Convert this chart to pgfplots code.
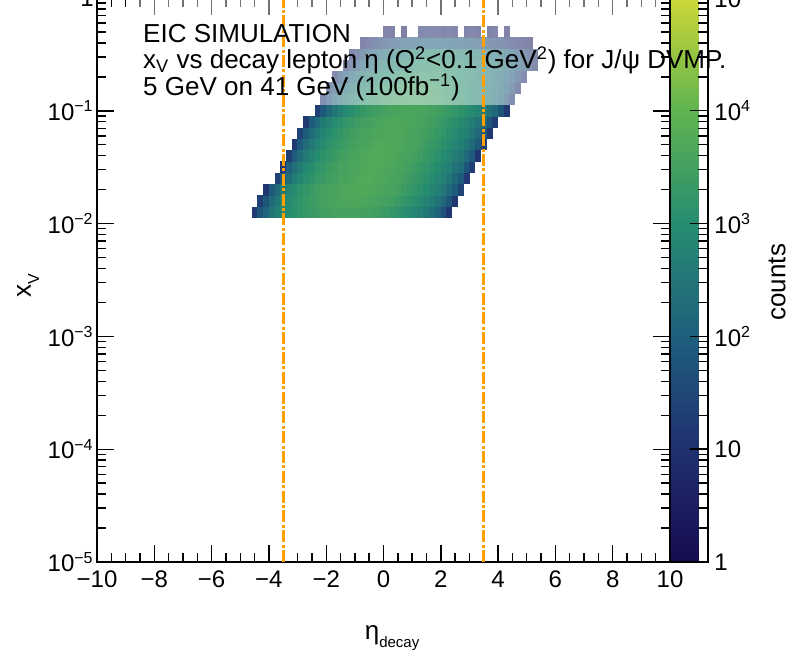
\documentclass[border=0pt]{standalone}
\usepackage{fontspec}
\setmainfont{Liberation Sans}
\usepackage{pgfplots}
\usepackage{pgfplotstable}
\pgfplotsset{compat=1.18}

\definecolor{cutorange}{RGB}{255,160,0}

\pgfdeclareplotmark{bin}{%
  \pgfpathrectangle{\pgfpoint{-1.5pt}{-2.9pt}}{\pgfpoint{3.0pt}{5.8pt}}%
  \pgfusepathqfill}

% eta bin centre, log10(x_V) bin centre, log10(counts)
\pgfplotstableread[row sep=\\]{
eta ly c\\
-4.5 -1.9 1.2\\ -4.3 -1.9 1.8\\ -4.1 -1.9 2.1\\ -3.9 -1.9 2.5\\ -3.7 -1.9 2.7\\ -3.5 -1.9 2.85\\ -3.3 -1.9 3.0\\ -3.1 -1.9 3.1\\ -2.9 -1.9 3.2\\ -2.7 -1.9 3.3\\ -2.5 -1.9 3.35\\ -2.3 -1.9 3.4\\ -2.1 -1.9 3.45\\ -1.9 -1.9 3.5\\ -1.7 -1.9 3.55\\ -1.5 -1.9 3.55\\ -1.3 -1.9 3.55\\ -1.1 -1.9 3.55\\ -0.9 -1.9 3.55\\ -0.7 -1.9 3.5\\ -0.5 -1.9 3.5\\ -0.3 -1.9 3.45\\ -0.1 -1.9 3.4\\ 0.1 -1.9 3.35\\ 0.3 -1.9 3.25\\ 0.5 -1.9 3.15\\ 0.7 -1.9 3.05\\ 0.9 -1.9 2.95\\ 1.1 -1.9 2.85\\ 1.3 -1.9 2.7\\ 1.5 -1.9 2.55\\ 1.7 -1.9 2.35\\ 1.9 -1.9 2.1\\ 2.1 -1.9 1.7\\ 2.3 -1.9 1.1\\
-4.3 -1.8 1.3\\ -4.1 -1.8 1.8\\ -3.9 -1.8 2.25\\ -3.7 -1.8 2.55\\ -3.5 -1.8 2.8\\ -3.3 -1.8 2.95\\ -3.1 -1.8 3.1\\ -2.9 -1.8 3.2\\ -2.7 -1.8 3.3\\ -2.5 -1.8 3.4\\ -2.3 -1.8 3.45\\ -2.1 -1.8 3.5\\ -1.9 -1.8 3.55\\ -1.7 -1.8 3.6\\ -1.5 -1.8 3.65\\ -1.3 -1.8 3.65\\ -1.1 -1.8 3.68\\ -0.9 -1.8 3.67\\ -0.7 -1.8 3.65\\ -0.5 -1.8 3.62\\ -0.3 -1.8 3.6\\ -0.1 -1.8 3.55\\ 0.1 -1.8 3.5\\ 0.3 -1.8 3.45\\ 0.5 -1.8 3.35\\ 0.7 -1.8 3.25\\ 0.9 -1.8 3.15\\ 1.1 -1.8 3.05\\ 1.3 -1.8 2.95\\ 1.5 -1.8 2.8\\ 1.7 -1.8 2.65\\ 1.9 -1.8 2.45\\ 2.1 -1.8 2.2\\ 2.3 -1.8 1.8\\ 2.5 -1.8 1.2\\
-4.1 -1.7 1.1\\ -3.9 -1.7 1.9\\ -3.7 -1.7 2.3\\ -3.5 -1.7 2.6\\ -3.3 -1.7 2.85\\ -3.1 -1.7 3.0\\ -2.9 -1.7 3.15\\ -2.7 -1.7 3.25\\ -2.5 -1.7 3.35\\ -2.3 -1.7 3.45\\ -2.1 -1.7 3.5\\ -1.9 -1.7 3.55\\ -1.7 -1.7 3.6\\ -1.5 -1.7 3.65\\ -1.3 -1.7 3.7\\ -1.1 -1.7 3.7\\ -0.9 -1.7 3.72\\ -0.7 -1.7 3.72\\ -0.5 -1.7 3.7\\ -0.3 -1.7 3.68\\ -0.1 -1.7 3.65\\ 0.1 -1.7 3.6\\ 0.3 -1.7 3.55\\ 0.5 -1.7 3.5\\ 0.7 -1.7 3.4\\ 0.9 -1.7 3.3\\ 1.1 -1.7 3.2\\ 1.3 -1.7 3.1\\ 1.5 -1.7 3.0\\ 1.7 -1.7 2.85\\ 1.9 -1.7 2.7\\ 2.1 -1.7 2.5\\ 2.3 -1.7 2.25\\ 2.5 -1.7 1.9\\ 2.7 -1.7 1.4\\
-3.7 -1.6 1.4\\ -3.5 -1.6 1.9\\ -3.3 -1.6 2.3\\ -3.1 -1.6 2.65\\ -2.9 -1.6 2.85\\ -2.7 -1.6 3.05\\ -2.5 -1.6 3.15\\ -2.3 -1.6 3.3\\ -2.1 -1.6 3.35\\ -1.9 -1.6 3.45\\ -1.7 -1.6 3.5\\ -1.5 -1.6 3.6\\ -1.3 -1.6 3.6\\ -1.1 -1.6 3.65\\ -0.9 -1.6 3.7\\ -0.7 -1.6 3.72\\ -0.5 -1.6 3.75\\ -0.3 -1.6 3.7\\ -0.1 -1.6 3.68\\ 0.1 -1.6 3.65\\ 0.3 -1.6 3.6\\ 0.5 -1.6 3.55\\ 0.7 -1.6 3.5\\ 0.9 -1.6 3.4\\ 1.1 -1.6 3.3\\ 1.3 -1.6 3.2\\ 1.5 -1.6 3.1\\ 1.7 -1.6 3.0\\ 1.9 -1.6 2.85\\ 2.1 -1.6 2.7\\ 2.3 -1.6 2.5\\ 2.5 -1.6 2.2\\ 2.7 -1.6 1.9\\ 2.9 -1.6 1.2\\
-3.5 -1.5 1.2\\ -3.3 -1.5 2.0\\ -3.1 -1.5 2.35\\ -2.9 -1.5 2.6\\ -2.7 -1.5 2.9\\ -2.5 -1.5 3.0\\ -2.3 -1.5 3.2\\ -2.1 -1.5 3.25\\ -1.9 -1.5 3.4\\ -1.7 -1.5 3.45\\ -1.5 -1.5 3.55\\ -1.3 -1.5 3.55\\ -1.1 -1.5 3.62\\ -0.9 -1.5 3.65\\ -0.7 -1.5 3.7\\ -0.5 -1.5 3.75\\ -0.3 -1.5 3.72\\ -0.1 -1.5 3.72\\ 0.1 -1.5 3.68\\ 0.3 -1.5 3.65\\ 0.5 -1.5 3.6\\ 0.7 -1.5 3.55\\ 0.9 -1.5 3.48\\ 1.1 -1.5 3.4\\ 1.3 -1.5 3.3\\ 1.5 -1.5 3.22\\ 1.7 -1.5 3.1\\ 1.9 -1.5 3.0\\ 2.1 -1.5 2.85\\ 2.3 -1.5 2.7\\ 2.5 -1.5 2.45\\ 2.7 -1.5 2.3\\ 2.9 -1.5 1.8\\ 3.1 -1.5 1.3\\
-3.3 -1.4 1.3\\ -3.1 -1.4 1.9\\ -2.9 -1.4 2.3\\ -2.7 -1.4 2.6\\ -2.5 -1.4 2.85\\ -2.3 -1.4 3.0\\ -2.1 -1.4 3.15\\ -1.9 -1.4 3.25\\ -1.7 -1.4 3.35\\ -1.5 -1.4 3.45\\ -1.3 -1.4 3.5\\ -1.1 -1.4 3.6\\ -0.9 -1.4 3.62\\ -0.7 -1.4 3.68\\ -0.5 -1.4 3.72\\ -0.3 -1.4 3.75\\ -0.1 -1.4 3.75\\ 0.1 -1.4 3.72\\ 0.3 -1.4 3.7\\ 0.5 -1.4 3.65\\ 0.7 -1.4 3.6\\ 0.9 -1.4 3.55\\ 1.1 -1.4 3.5\\ 1.3 -1.4 3.42\\ 1.5 -1.4 3.3\\ 1.7 -1.4 3.2\\ 1.9 -1.4 3.1\\ 2.1 -1.4 3.0\\ 2.3 -1.4 2.85\\ 2.5 -1.4 2.65\\ 2.7 -1.4 2.5\\ 2.9 -1.4 2.25\\ 3.1 -1.4 1.9\\ 3.3 -1.4 1.1\\
-3.1 -1.3 1.2\\ -2.9 -1.3 1.85\\ -2.7 -1.3 2.3\\ -2.5 -1.3 2.6\\ -2.3 -1.3 2.8\\ -2.1 -1.3 3.0\\ -1.9 -1.3 3.15\\ -1.7 -1.3 3.25\\ -1.5 -1.3 3.35\\ -1.3 -1.3 3.42\\ -1.1 -1.3 3.5\\ -0.9 -1.3 3.55\\ -0.7 -1.3 3.6\\ -0.5 -1.3 3.65\\ -0.3 -1.3 3.7\\ -0.1 -1.3 3.72\\ 0.1 -1.3 3.72\\ 0.3 -1.3 3.7\\ 0.5 -1.3 3.68\\ 0.7 -1.3 3.65\\ 0.9 -1.3 3.6\\ 1.1 -1.3 3.55\\ 1.3 -1.3 3.5\\ 1.5 -1.3 3.4\\ 1.7 -1.3 3.3\\ 1.9 -1.3 3.2\\ 2.1 -1.3 3.1\\ 2.3 -1.3 3.0\\ 2.5 -1.3 2.85\\ 2.7 -1.3 2.7\\ 2.9 -1.3 2.5\\ 3.1 -1.3 2.25\\ 3.3 -1.3 1.85\\ 3.5 -1.3 1.3\\
-2.9 -1.2 1.4\\ -2.7 -1.2 1.9\\ -2.5 -1.2 2.3\\ -2.3 -1.2 2.55\\ -2.1 -1.2 2.85\\ -1.9 -1.2 3.0\\ -1.7 -1.2 3.12\\ -1.5 -1.2 3.25\\ -1.3 -1.2 3.35\\ -1.1 -1.2 3.45\\ -0.9 -1.2 3.5\\ -0.7 -1.2 3.55\\ -0.5 -1.2 3.6\\ -0.3 -1.2 3.65\\ -0.1 -1.2 3.68\\ 0.1 -1.2 3.7\\ 0.3 -1.2 3.7\\ 0.5 -1.2 3.7\\ 0.7 -1.2 3.66\\ 0.9 -1.2 3.62\\ 1.1 -1.2 3.58\\ 1.3 -1.2 3.52\\ 1.5 -1.2 3.48\\ 1.7 -1.2 3.4\\ 1.9 -1.2 3.3\\ 2.1 -1.2 3.2\\ 2.3 -1.2 3.08\\ 2.5 -1.2 2.98\\ 2.7 -1.2 2.85\\ 2.9 -1.2 2.7\\ 3.1 -1.2 2.5\\ 3.3 -1.2 2.2\\ 3.5 -1.2 1.9\\ 3.7 -1.2 1.2\\
-2.7 -1.1 1.2\\ -2.5 -1.1 1.9\\ -2.3 -1.1 2.25\\ -2.1 -1.1 2.6\\ -1.9 -1.1 2.8\\ -1.7 -1.1 3.0\\ -1.5 -1.1 3.1\\ -1.3 -1.1 3.2\\ -1.1 -1.1 3.3\\ -0.9 -1.1 3.4\\ -0.7 -1.1 3.48\\ -0.5 -1.1 3.52\\ -0.3 -1.1 3.58\\ -0.1 -1.1 3.62\\ 0.1 -1.1 3.66\\ 0.3 -1.1 3.68\\ 0.5 -1.1 3.7\\ 0.7 -1.1 3.68\\ 0.9 -1.1 3.65\\ 1.1 -1.1 3.62\\ 1.3 -1.1 3.58\\ 1.5 -1.1 3.52\\ 1.7 -1.1 3.45\\ 1.9 -1.1 3.38\\ 2.1 -1.1 3.28\\ 2.3 -1.1 3.18\\ 2.5 -1.1 3.08\\ 2.7 -1.1 2.98\\ 2.9 -1.1 2.82\\ 3.1 -1.1 2.65\\ 3.3 -1.1 2.45\\ 3.5 -1.1 2.2\\ 3.7 -1.1 1.8\\ 3.9 -1.1 1.3\\
-2.3 -1.0 1.3\\ -2.1 -1.0 1.85\\ -1.9 -1.0 2.2\\ -1.7 -1.0 2.5\\ -1.5 -1.0 2.75\\ -1.3 -1.0 2.95\\ -1.1 -1.0 3.05\\ -0.9 -1.0 3.18\\ -0.7 -1.0 3.28\\ -0.5 -1.0 3.36\\ -0.3 -1.0 3.42\\ -0.1 -1.0 3.48\\ 0.1 -1.0 3.52\\ 0.3 -1.0 3.58\\ 0.5 -1.0 3.6\\ 0.7 -1.0 3.62\\ 0.9 -1.0 3.64\\ 1.1 -1.0 3.62\\ 1.3 -1.0 3.6\\ 1.5 -1.0 3.58\\ 1.7 -1.0 3.52\\ 1.9 -1.0 3.48\\ 2.1 -1.0 3.42\\ 2.3 -1.0 3.34\\ 2.5 -1.0 3.25\\ 2.7 -1.0 3.15\\ 2.9 -1.0 3.05\\ 3.1 -1.0 2.95\\ 3.3 -1.0 2.8\\ 3.5 -1.0 2.62\\ 3.7 -1.0 2.42\\ 3.9 -1.0 2.2\\ 4.1 -1.0 1.8\\ 4.3 -1.0 1.2\\
-2.1 -0.9 1.1\\ -1.9 -0.9 1.7\\ -1.7 -0.9 2.1\\ -1.5 -0.9 2.4\\ -1.3 -0.9 2.65\\ -1.1 -0.9 2.8\\ -0.9 -0.9 2.95\\ -0.7 -0.9 3.05\\ -0.5 -0.9 3.15\\ -0.3 -0.9 3.22\\ -0.1 -0.9 3.3\\ 0.1 -0.9 3.35\\ 0.3 -0.9 3.4\\ 0.5 -0.9 3.45\\ 0.7 -0.9 3.48\\ 0.9 -0.9 3.5\\ 1.1 -0.9 3.5\\ 1.3 -0.9 3.48\\ 1.5 -0.9 3.46\\ 1.7 -0.9 3.42\\ 1.9 -0.9 3.38\\ 2.1 -0.9 3.32\\ 2.3 -0.9 3.26\\ 2.5 -0.9 3.18\\ 2.7 -0.9 3.1\\ 2.9 -0.9 3.0\\ 3.1 -0.9 2.9\\ 3.3 -0.9 2.8\\ 3.5 -0.9 2.65\\ 3.7 -0.9 2.5\\ 3.9 -0.9 2.3\\ 4.1 -0.9 2.05\\ 4.3 -0.9 1.7\\ 4.5 -0.9 1.1\\
-1.9 -0.8 1.2\\ -1.7 -0.8 1.6\\ -1.5 -0.8 2.0\\ -1.3 -0.8 2.3\\ -1.1 -0.8 2.55\\ -0.9 -0.8 2.7\\ -0.7 -0.8 2.85\\ -0.5 -0.8 2.95\\ -0.3 -0.8 3.05\\ -0.1 -0.8 3.12\\ 0.1 -0.8 3.2\\ 0.3 -0.8 3.25\\ 0.5 -0.8 3.3\\ 0.7 -0.8 3.35\\ 0.9 -0.8 3.38\\ 1.1 -0.8 3.4\\ 1.3 -0.8 3.4\\ 1.5 -0.8 3.38\\ 1.7 -0.8 3.36\\ 1.9 -0.8 3.32\\ 2.1 -0.8 3.28\\ 2.3 -0.8 3.22\\ 2.5 -0.8 3.16\\ 2.7 -0.8 3.08\\ 2.9 -0.8 3.0\\ 3.1 -0.8 2.9\\ 3.3 -0.8 2.8\\ 3.5 -0.8 2.7\\ 3.7 -0.8 2.55\\ 3.9 -0.8 2.4\\ 4.1 -0.8 2.2\\ 4.3 -0.8 1.95\\ 4.5 -0.8 1.6\\ 4.7 -0.8 1.0\\
-1.7 -0.7 1.0\\ -1.5 -0.7 1.5\\ -1.3 -0.7 1.85\\ -1.1 -0.7 2.15\\ -0.9 -0.7 2.4\\ -0.7 -0.7 2.55\\ -0.5 -0.7 2.7\\ -0.3 -0.7 2.8\\ -0.1 -0.7 2.9\\ 0.1 -0.7 2.98\\ 0.3 -0.7 3.05\\ 0.5 -0.7 3.1\\ 0.7 -0.7 3.15\\ 0.9 -0.7 3.2\\ 1.1 -0.7 3.22\\ 1.3 -0.7 3.25\\ 1.5 -0.7 3.25\\ 1.7 -0.7 3.22\\ 1.9 -0.7 3.2\\ 2.1 -0.7 3.16\\ 2.3 -0.7 3.12\\ 2.5 -0.7 3.06\\ 2.7 -0.7 3.0\\ 2.9 -0.7 2.92\\ 3.1 -0.7 2.84\\ 3.3 -0.7 2.75\\ 3.5 -0.7 2.65\\ 3.7 -0.7 2.55\\ 3.9 -0.7 2.4\\ 4.1 -0.7 2.25\\ 4.3 -0.7 2.05\\ 4.5 -0.7 1.8\\ 4.7 -0.7 1.45\\ 4.9 -0.7 1.0\\
-1.3 -0.6 0.9\\ -1.1 -0.6 1.4\\ -0.9 -0.6 1.7\\ -0.7 -0.6 2.0\\ -0.5 -0.6 2.25\\ -0.3 -0.6 2.4\\ -0.1 -0.6 2.55\\ 0.1 -0.6 2.65\\ 0.3 -0.6 2.75\\ 0.5 -0.6 2.82\\ 0.7 -0.6 2.9\\ 0.9 -0.6 2.95\\ 1.1 -0.6 3.0\\ 1.3 -0.6 3.05\\ 1.5 -0.6 3.08\\ 1.7 -0.6 3.1\\ 1.9 -0.6 3.1\\ 2.1 -0.6 3.08\\ 2.3 -0.6 3.05\\ 2.5 -0.6 3.0\\ 2.7 -0.6 2.96\\ 2.9 -0.6 2.9\\ 3.1 -0.6 2.84\\ 3.3 -0.6 2.76\\ 3.5 -0.6 2.68\\ 3.7 -0.6 2.58\\ 3.9 -0.6 2.48\\ 4.1 -0.6 2.38\\ 4.3 -0.6 2.25\\ 4.5 -0.6 2.1\\ 4.7 -0.6 1.9\\ 4.9 -0.6 1.65\\ 5.1 -0.6 1.3\\ 5.3 -0.6 0.9\\
-1.1 -0.5 0.8\\ -0.9 -0.5 1.2\\ -0.7 -0.5 1.5\\ -0.5 -0.5 1.8\\ -0.3 -0.5 2.0\\ -0.1 -0.5 2.2\\ 0.1 -0.5 2.3\\ 0.3 -0.5 2.45\\ 0.5 -0.5 2.55\\ 0.7 -0.5 2.62\\ 0.9 -0.5 2.7\\ 1.1 -0.5 2.75\\ 1.3 -0.5 2.8\\ 1.5 -0.5 2.84\\ 1.7 -0.5 2.88\\ 1.9 -0.5 2.9\\ 2.1 -0.5 2.88\\ 2.3 -0.5 2.85\\ 2.5 -0.5 2.82\\ 2.7 -0.5 2.78\\ 2.9 -0.5 2.72\\ 3.1 -0.5 2.65\\ 3.3 -0.5 2.58\\ 3.5 -0.5 2.5\\ 3.7 -0.5 2.4\\ 3.9 -0.5 2.3\\ 4.1 -0.5 2.2\\ 4.3 -0.5 2.05\\ 4.5 -0.5 1.9\\ 4.7 -0.5 1.7\\ 4.9 -0.5 1.5\\ 5.1 -0.5 1.2\\ 5.3 -0.5 0.8\\
-0.7 -0.4 0.6\\ -0.5 -0.4 0.9\\ -0.3 -0.4 1.1\\ -0.1 -0.4 1.3\\ 0.1 -0.4 1.45\\ 0.3 -0.4 1.6\\ 0.5 -0.4 1.7\\ 0.7 -0.4 1.8\\ 0.9 -0.4 1.85\\ 1.1 -0.4 1.9\\ 1.3 -0.4 1.95\\ 1.5 -0.4 2.0\\ 1.7 -0.4 2.0\\ 1.9 -0.4 2.0\\ 2.1 -0.4 1.98\\ 2.3 -0.4 1.95\\ 2.5 -0.4 1.9\\ 2.7 -0.4 1.85\\ 2.9 -0.4 1.8\\ 3.1 -0.4 1.72\\ 3.3 -0.4 1.65\\ 3.5 -0.4 1.55\\ 3.7 -0.4 1.45\\ 3.9 -0.4 1.35\\ 4.1 -0.4 1.25\\ 4.3 -0.4 1.1\\ 4.5 -0.4 1.0\\ 4.7 -0.4 0.85\\ 4.9 -0.4 0.7\\ 5.1 -0.4 0.5\\
0.1 -0.3 0.6\\ 0.3 -0.3 0.5\\ 0.7 -0.3 0.4\\ 1.3 -0.3 0.8\\ 1.5 -0.3 1.0\\ 1.7 -0.3 1.0\\ 1.9 -0.3 0.9\\ 2.1 -0.3 0.8\\ 2.3 -0.3 1.0\\ 2.5 -0.3 0.7\\ 2.9 -0.3 0.6\\ 3.1 -0.3 0.8\\ 3.3 -0.3 0.6\\ 3.7 -0.3 0.5\\ 3.9 -0.3 0.7\\ 4.3 -0.3 0.5\\
}\hist

\newcommand\tfont{\fontsize{12}{14}\selectfont}
\newcommand\bfontsz{\fontsize{13}{15}\selectfont}

\begin{document}
\begin{tikzpicture}
\begin{axis}[
  name=main,
  at={(48.5pt,48pt)}, anchor=south west,
  scale only axis, width=286.5pt, height=282pt,
  xmin=-10, xmax=10, ymode=log, ymin=1e-5, ymax=1,
  clip=false, clip marker paths=true,
  xtick={-10,-8,-6,-4,-2,0,2,4,6,8,10},
  xticklabels={−10,−8,−6,−4,−2,0,2,4,6,8,10},
  minor xtick={-9.5,-9,...,9.5},
  ytick={1e-5,1e-4,1e-3,1e-2,1e-1,1},
  yticklabels={10\textsuperscript{−5},10\textsuperscript{−4},10\textsuperscript{−3},10\textsuperscript{−2},10\textsuperscript{−1},1},
  minor ytick={2e-5,3e-5,4e-5,5e-5,6e-5,7e-5,8e-5,9e-5,
               2e-4,3e-4,4e-4,5e-4,6e-4,7e-4,8e-4,9e-4,
               2e-3,3e-3,4e-3,5e-3,6e-3,7e-3,8e-3,9e-3,
               2e-2,3e-2,4e-2,5e-2,6e-2,7e-2,8e-2,9e-2,
               0.2,0.3,0.4,0.5,0.6,0.7,0.8,0.9},
  tick align=inside,
  major tick length=8.5pt, minor tick length=4.5pt,
  every tick/.style={black, line width=0.7pt},
  axis line style={black, line width=0.9pt},
  tick label style={font=\tfont},
  xticklabel style={yshift=-1pt},
  yticklabel style={inner xsep=1.5pt},
  xlabel={η\raisebox{-0.6ex}{\fontsize{7.5}{8}\selectfont decay}},
  xlabel style={at={(axis description cs:0.515,-0.135)}, anchor=center, font=\bfontsz},
  ylabel={x\raisebox{-0.6ex}{\fontsize{8}{9}\selectfont V}},
  ylabel style={at={(axis description cs:-0.12,0.49)}, anchor=center, font=\bfontsz},
  colormap={eic}{rgb255=(22,12,80) rgb255=(32,48,112) rgb255=(30,95,125) rgb255=(38,140,112) rgb255=(95,180,80) rgb255=(205,215,55)},
  point meta min=0, point meta max=5,
  colorbar,
  colorbar shift/.style={xshift=0pt},
  colorbar style={
    at={(parent axis.north east)}, anchor=north west,
    width=19pt,
    ytick={0,1,2,3,4,5},
    yticklabels={1,10,10\textsuperscript{2},10\textsuperscript{3},10\textsuperscript{4},10\textsuperscript{5}},
    minor ytick={0.301,0.477,0.602,0.699,0.778,0.845,0.903,0.954,
                 1.301,1.477,1.602,1.699,1.778,1.845,1.903,1.954,
                 2.301,2.477,2.602,2.699,2.778,2.845,2.903,2.954,
                 3.301,3.477,3.602,3.699,3.778,3.845,3.903,3.954,
                 4.301,4.477,4.602,4.699,4.778,4.845,4.903,4.954},
    ytick pos=right, yticklabel pos=right,
    tick align=inside,
    major tick length=9pt, minor tick length=5pt,
    every tick/.style={black, line width=0.7pt},
    axis line style={black, line width=0.9pt},
    tick label style={font=\tfont},
    yticklabel style={inner xsep=3pt},
    ylabel={counts},
    every axis y label/.style={at={(axis description cs:2.82,0.496)}, anchor=center, rotate=90, font=\bfontsz},
  },
]
\addplot[scatter, only marks, mark=bin, point meta=explicit,
  scatter/use mapped color={draw=mapped color, fill=mapped color}]
  table[x=eta, y expr={10^(\thisrow{ly})}, meta=c] {\hist};
\addplot[draw=none, fill=white, fill opacity=0.45]
  coordinates {(-9,0.1125) (9.6,0.1125) (9.6,1) (-9,1)} -- cycle;
\addplot[cutorange, line width=1.6pt, dash pattern=on 6pt off 1.2pt on 1.5pt off 1.2pt]
  coordinates {(-3.5,1e-5) (-3.5,1)};
\addplot[cutorange, line width=1.6pt, dash pattern=on 6pt off 1.2pt on 1.5pt off 1.2pt]
  coordinates {(3.5,1e-5) (3.5,1)};
\coordinate (t1) at (axis cs:-8.4,0.407);
\coordinate (t2) at (axis cs:-8.4,0.239);
\coordinate (t3) at (axis cs:-8.4,0.138);
\end{axis}
\node[anchor=base west, inner sep=0pt, font=\bfontsz] at (t1) {EIC SIMULATION};
\node[anchor=base west, inner sep=0pt, font=\bfontsz] at (t2) {x\textsubscript{V} vs decay lepton η (Q\textsuperscript{2}<0.1 GeV\textsuperscript{2}) for J/ψ DVMP.};
\node[anchor=base west, inner sep=0pt, font=\bfontsz] at (t3) {5 GeV on 41 GeV (100fb\textsuperscript{−1})};
\pgfresetboundingbox
\useasboundingbox (0,0) rectangle (395pt,329pt);
\end{tikzpicture}
\end{document}
